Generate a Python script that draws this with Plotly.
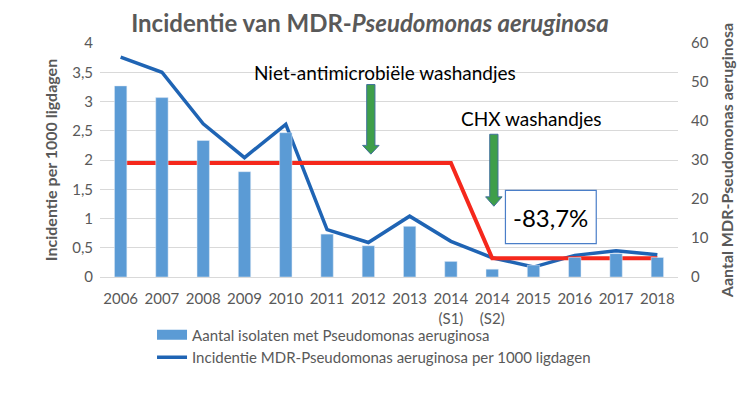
import plotly.graph_objects as go

categories = ["2006", "2007", "2008", "2009", "2010", "2011", "2012", "2013",
              "2014<br>(S1)", "2014<br>(S2)", "2015", "2016", "2017", "2018"]
isolaten = [49, 46, 35, 27, 37, 11, 8, 13, 4, 2, 3, 5, 6, 5]
incidentie = [3.76, 3.50, 2.62, 2.04, 2.61, 0.81, 0.59, 1.04, 0.61, 0.33, 0.17, 0.37, 0.45, 0.38]
gemiddelde = [1.95] * 9 + [0.32] * 5
left_ticks = [0, 0.5, 1, 1.5, 2, 2.5, 3, 3.5, 4]
left_ticktext = ["0", "0,5", "1", "1,5", "2", "2,5", "3", "3,5", "4"]
right_ticks = [0, 10, 20, 30, 40, 50, 60]

xs = list(range(len(categories)))
FONT = "Lato"
GREY = "#595959"
BAR_COLOR = "#5B9BD5"
BAR_NAME = "Aantal isolaten met Pseudomonas aeruginosa"

fig = go.Figure()
fig.add_trace(go.Bar(x=xs, y=isolaten, yaxis="y2", width=0.3,
                     marker_color=BAR_COLOR, name=BAR_NAME,
                     legendgroup="bars", showlegend=False))
# legend-only entry with a wide rectangle swatch like the original
fig.add_trace(go.Scatter(x=[None], y=[None], mode="lines", yaxis="y2",
                         line=dict(color=BAR_COLOR, width=10),
                         name=BAR_NAME, legendgroup="bars"))
fig.add_trace(go.Scatter(x=xs, y=incidentie, mode="lines",
                         line=dict(color="#1F64B4", width=3.5),
                         name="Incidentie MDR-Pseudomonas aeruginosa per 1000 ligdagen"))
fig.add_trace(go.Scatter(x=xs, y=gemiddelde, mode="lines",
                         line=dict(color="#F5281C", width=4),
                         showlegend=False, hoverinfo="skip"))


def block_arrow(xc, ytop, yhead, ytip, hw=0.1, hh=0.2):
    return (f"M {xc-hw},{ytop} L {xc+hw},{ytop} L {xc+hw},{yhead} L {xc+hh},{yhead} "
            f"L {xc},{ytip} L {xc-hh},{yhead} L {xc-hw},{yhead} Z")


shapes = [
    dict(type="path", xref="x", yref="y", path=block_arrow(6.06, 3.29, 2.25, 2.10),
         fillcolor="#3E9E4A", line=dict(color="#41719C", width=1), layer="above"),
    dict(type="path", xref="x", yref="y", path=block_arrow(9.04, 2.44, 1.37, 1.21),
         fillcolor="#3E9E4A", line=dict(color="#41719C", width=1), layer="above"),
    dict(type="rect", xref="x", yref="y", x0=9.32, x1=11.52, y0=0.57, y1=1.48,
         fillcolor="white", line=dict(color="#4A7EC8", width=1.2), layer="above"),
]

annotations = [
    dict(x=6.4, y=3.5, xref="x", yref="y", text="Niet-antimicrobiële washandjes",
         showarrow=False, font=dict(family=FONT, size=19, color="black")),
    dict(x=9.96, y=2.71, xref="x", yref="y", text="CHX washandjes",
         showarrow=False, font=dict(family=FONT, size=19, color="black")),
    dict(x=10.42, y=1.025, xref="x", yref="y", text="-83,7%",
         showarrow=False, font=dict(family=FONT, size=24, color="black")),
]

fig.update_layout(
    width=742, height=387,
    margin=dict(l=92, r=72, t=35, b=118),
    paper_bgcolor="white", plot_bgcolor="white",
    font=dict(family=FONT, color=GREY, size=15),
    title=dict(text="<b>Incidentie van MDR-<i>Pseudomonas aeruginosa</i></b>",
               x=(370 - 8) / 742, xanchor="center", y=1 - 16 / 387, yanchor="middle",
               font=dict(family=FONT, size=24, color=GREY)),
    xaxis=dict(tickmode="array", tickvals=xs, ticktext=categories,
               range=[-0.5, len(categories) - 0.5], showgrid=False,
               showline=True, linecolor="#D9D9D9", ticks="",
               ticklabelstandoff=8,
               tickfont=dict(size=15, color=GREY)),
    yaxis=dict(range=[0, 4], tickvals=left_ticks, ticktext=left_ticktext,
               showgrid=True, gridcolor="#D9D9D9", gridwidth=1, zeroline=False,
               ticklabelstandoff=6,
               tickfont=dict(size=15, color=GREY),
               title=dict(text="<b>Incidentie per 1000 ligdagen</b>",
                          font=dict(size=16, color=GREY), standoff=10)),
    yaxis2=dict(range=[0, 60], tickvals=right_ticks, overlaying="y", side="right",
                showgrid=False, zeroline=False,
                ticklabelstandoff=12,
                tickfont=dict(size=15, color=GREY),
                title=dict(text="<b>Aantal MDR-Pseudomonas aeruginosa</b>",
                           font=dict(size=16, color=GREY), standoff=14)),
    legend=dict(x=0.09, y=-0.177, xanchor="left", yanchor="top",
                font=dict(size=15, color=GREY), bgcolor="rgba(0,0,0,0)",
                tracegroupgap=0),
    shapes=shapes, annotations=annotations, showlegend=True, bargap=0.7,
)

fig.write_html("out.html")
